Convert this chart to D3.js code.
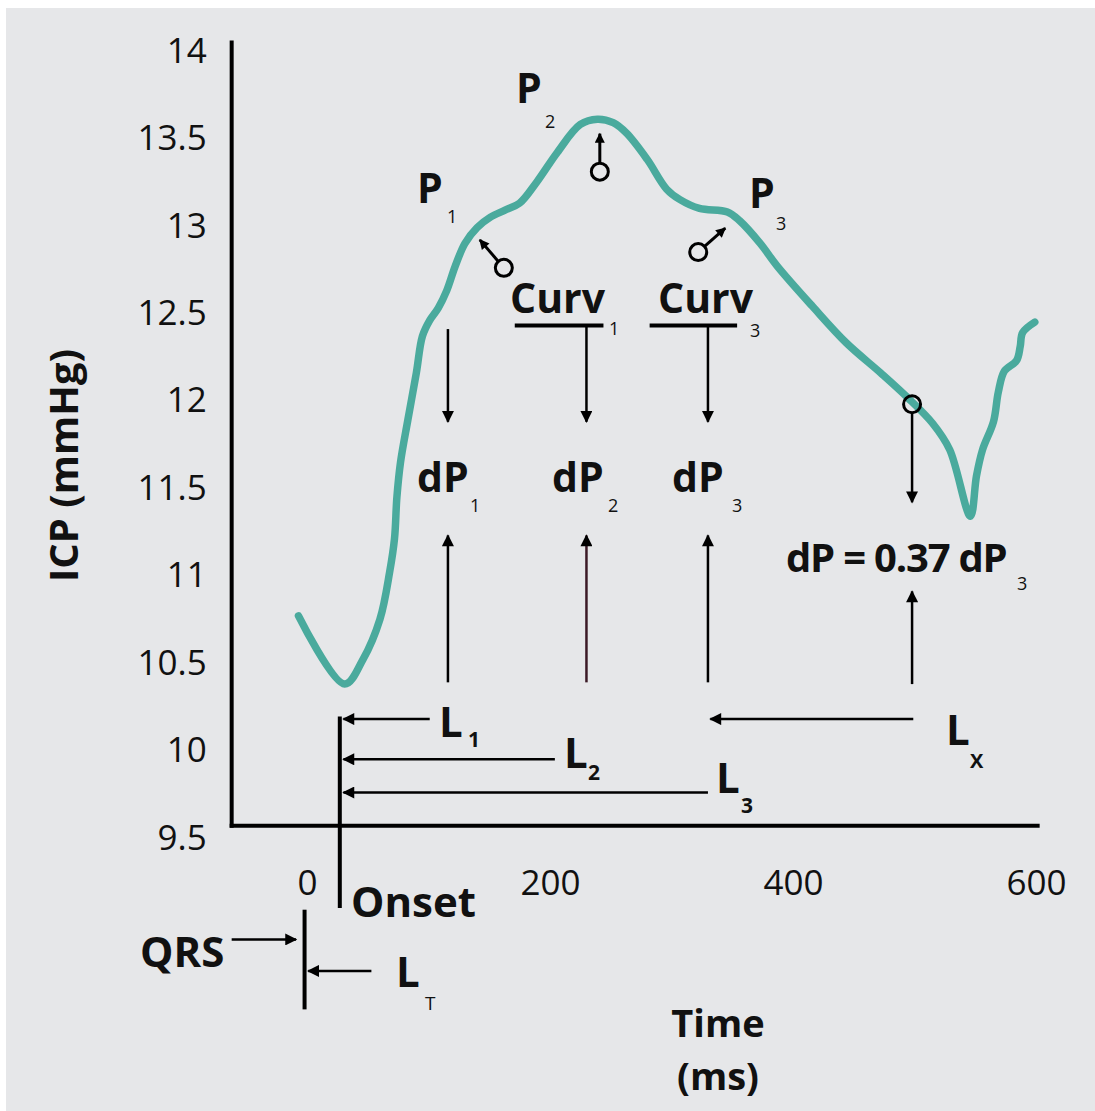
<!DOCTYPE html>
<html>
<head>
<meta charset="utf-8">
<script src="https://cdn.jsdelivr.net/npm/d3@7"></script>
<style>
  body { margin: 0; background: #fff; }
  text { font-family: "Open Sans", "Noto Sans", sans-serif; fill: #111; }
</style>
</head>
<body>
<div id="chart"></div>
<script>
// ICP pulse waveform
var timeMs = [-7, 31, 46, 60, 68, 72, 74, 77, 83, 90, 95, 101, 108, 115, 122, 130, 140, 151, 163, 175, 189,
              206, 225, 239, 252, 263, 280, 296, 307, 323, 346, 356, 373, 387, 416, 444, 472, 494, 515,
              529, 546, 551, 556, 565, 569, 574, 584, 587, 589, 599];
var icp = [10.77, 10.38, 10.52, 10.75, 11.02, 11.21, 11.45, 11.65, 11.89, 12.16, 12.37, 12.46, 12.53, 12.63,
           12.77, 12.90, 12.99, 13.05, 13.09, 13.13, 13.25, 13.42, 13.58, 13.61, 13.59, 13.53, 13.38, 13.21,
           13.15, 13.10, 13.08, 13.03, 12.90, 12.77, 12.54, 12.33, 12.16, 12.02, 11.87, 11.72, 11.34, 11.57,
           11.72, 11.88, 12.05, 12.17, 12.23, 12.31, 12.39, 12.45];

var yTicks = [14, 13.5, 13, 12.5, 12, 11.5, 11, 10.5, 10, 9.5];
var xTicks = [0, 200, 400, 600];

// feature times (ms) used by the annotations
var onsetMs = 27;
var qrsMs = -2;
var dpTimes = [116, 230, 330];
var lxMs = 498;

var width = 1095, height = 1111;

var svg = d3.select("#chart").append("svg")
    .attr("width", width)
    .attr("height", height);

svg.append("rect")
    .attr("x", 6).attr("y", 8)
    .attr("width", width - 6).attr("height", height - 8)
    .attr("fill", "#e6e7e9");

var x = d3.scaleLinear().domain([0, 600]).range([307, 1036]);
var y = d3.scaleLinear().domain([9.5, 14]).range([838, 51]);

var defs = svg.append("defs");
defs.append("marker")
    .attr("id", "head")
    .attr("viewBox", "0 0 10 10")
    .attr("refX", 9).attr("refY", 5)
    .attr("markerWidth", 15).attr("markerHeight", 12)
    .attr("markerUnits", "userSpaceOnUse")
    .attr("orient", "auto")
    .append("path").attr("d", "M0,0L10,5L0,10z").attr("fill", "#000");
defs.append("marker")
    .attr("id", "headSmall")
    .attr("viewBox", "0 0 10 10")
    .attr("refX", 9).attr("refY", 5)
    .attr("markerWidth", 11).attr("markerHeight", 10)
    .attr("markerUnits", "userSpaceOnUse")
    .attr("orient", "auto")
    .append("path").attr("d", "M0,0L10,5L0,10z").attr("fill", "#000");

// axes
var axisX0 = -62, axisY0 = 9.57;

svg.append("g")
    .attr("transform", "translate(" + x(axisX0) + ",0)")
    .call(d3.axisLeft(y).tickValues(yTicks).tickSize(0).tickPadding(25).tickFormat(d3.format("~g")))
    .call(g => g.select(".domain").remove())
    .selectAll("text")
    .attr("font-size", "35px")
    .attr("font-family", "'Open Sans', sans-serif")
    .attr("fill", "#111");

svg.append("g")
    .attr("transform", "translate(0," + y(axisY0) + ")")
    .call(d3.axisBottom(x).tickValues(xTicks).tickSize(0).tickPadding(44))
    .call(g => g.select(".domain").remove())
    .selectAll("text")
    .attr("font-size", "35px")
    .attr("font-family", "'Open Sans', sans-serif")
    .attr("fill", "#111");

svg.append("line")
    .attr("x1", x(axisX0)).attr("x2", x(axisX0))
    .attr("y1", y(14.06)).attr("y2", y(axisY0) + 2)
    .attr("stroke", "#000").attr("stroke-width", 4);
svg.append("line")
    .attr("x1", x(axisX0) - 2).attr("x2", x(603))
    .attr("y1", y(axisY0)).attr("y2", y(axisY0))
    .attr("stroke", "#000").attr("stroke-width", 4);

// axis titles
svg.append("text")
    .attr("transform", "translate(78," + y(11.63) + ") rotate(-90)")
    .attr("text-anchor", "middle")
    .attr("font-size", "40px")
    .attr("font-weight", 700)
    .text("ICP (mmHg)");
svg.append("text")
    .attr("x", 718).attr("y", 1037)
    .attr("text-anchor", "middle")
    .attr("font-size", "38px").attr("font-weight", 700)
    .text("Time");
svg.append("text")
    .attr("x", 718).attr("y", 1090)
    .attr("text-anchor", "middle")
    .attr("font-size", "38px").attr("font-weight", 700)
    .text("(ms)");

// waveform
var wave = timeMs.map((t, i) => ({t: t, v: icp[i]}));
var line = d3.line()
    .x(d => x(d.t))
    .y(d => y(d.v))
    .curve(d3.curveCatmullRom.alpha(0.5));

svg.append("path")
    .datum(wave)
    .attr("d", line)
    .attr("fill", "none")
    .attr("stroke", "#4aaa9d")
    .attr("stroke-width", 7.5)
    .attr("stroke-linecap", "round")
    .attr("stroke-linejoin", "round");

// helpers for annotations (data units)
function arrow(t1, v1, t2, v2, color, w) {
    svg.append("line")
        .attr("x1", x(t1)).attr("y1", y(v1))
        .attr("x2", x(t2)).attr("y2", y(v2))
        .attr("stroke", color || "#000")
        .attr("stroke-width", w || 2.5)
        .attr("marker-end", "url(#head)");
}
function plainLine(t1, v1, t2, v2, w) {
    svg.append("line")
        .attr("x1", x(t1)).attr("y1", y(v1))
        .attr("x2", x(t2)).attr("y2", y(v2))
        .attr("stroke", "#000")
        .attr("stroke-width", w || 4);
}
function circleArrow(t, v, dx, dy) {
    var cx = x(t), cy = y(v), r = 8.5;
    svg.append("circle")
        .attr("cx", cx).attr("cy", cy).attr("r", r)
        .attr("fill", "none").attr("stroke", "#000").attr("stroke-width", 3);
    if (!dx && !dy) return;
    var len = Math.sqrt(dx * dx + dy * dy);
    svg.append("line")
        .attr("x1", cx + dx / len * r).attr("y1", cy + dy / len * r)
        .attr("x2", cx + dx).attr("y2", cy + dy)
        .attr("stroke", "#000").attr("stroke-width", 3)
        .attr("marker-end", "url(#headSmall)");
}
function label(px, py, main, sub, subX, subY, size, subSize, subBold) {
    var g = svg.append("g");
    g.append("text")
        .attr("x", px).attr("y", py)
        .attr("font-size", (size || 41) + "px")
        .attr("font-weight", 700)
        .text(main);
    if (sub) {
        g.append("text")
            .attr("x", subX).attr("y", subY)
            .attr("font-size", (subSize || 18) + "px")
            .attr("font-weight", subBold ? 700 : 400)
            .attr("fill", subBold ? "#111" : "#333")
            .text(sub);
    }
}

// peak labels
label(417, 203, "P", "1", 447, 223);
label(516, 103, "P", "2", 545, 128);
label(749, 208, "P", "3", 776, 230);

// curvature markers
circleArrow(162, 12.76, -24, -28);
circleArrow(241, 13.31, 0, -38);
circleArrow(322, 12.85, 27, -24);
circleArrow(lxMs, 11.98, 0, 0);

label(510, 313, "Curv", "1", 609, 335);
label(658, 313, "Curv", "3", 750, 337);
plainLine(171, 12.43, 244, 12.43, 4);
plainLine(282, 12.43, 354, 12.43, 4);

// down arrows to dP
arrow(dpTimes[0], 12.41, dpTimes[0], 11.88);
arrow(dpTimes[1], 12.43, dpTimes[1], 11.88);
arrow(dpTimes[2], 12.43, dpTimes[2], 11.88);
arrow(lxMs, 11.93, lxMs, 11.42);

label(417, 492, "dP", "1", 470, 512);
label(552, 492, "dP", "2", 608, 512);
label(672, 492, "dP", "3", 732, 512);

svg.append("text")
    .attr("x", 786).attr("y", 572)
    .attr("font-size", "40px").attr("font-weight", 700)
    .attr("letter-spacing", "-1.2px")
    .text("dP = 0.37 dP");
svg.append("text").attr("x", 1017).attr("y", 590)
    .attr("font-size", "18px").attr("fill", "#333").text("3");

// up arrows from the L level
arrow(dpTimes[0], 10.39, dpTimes[0], 11.23);
arrow(dpTimes[1], 10.39, dpTimes[1], 11.23, "#3b1a26");
arrow(dpTimes[2], 10.39, dpTimes[2], 11.23);
arrow(lxMs, 10.38, lxMs, 10.91);

// onset line and latency arrows
plainLine(onsetMs, 10.195, onsetMs, 9.10, 4);
arrow(101, 10.18, onsetMs + 3, 10.18);
arrow(204, 9.95, onsetMs + 3, 9.95);
arrow(330, 9.76, onsetMs + 3, 9.76);
arrow(499, 10.18, 332, 10.18);

label(439, 737, "L", "1", 468, 747, 42, 21, true);
label(564, 768, "L", "2", 588, 780, 42, 21, true);
label(716, 793, "L", "3", 741, 813, 42, 21, true);
label(946, 745, "L", "X", 970, 768, 42, 20, true);

label(351, 917, "Onset", null, 0, 0, 42);

// QRS marker
plainLine(qrsMs, 9.09, qrsMs, 8.52, 4);
arrow(-62, 8.92, -9, 8.92);
arrow(53, 8.74, 1, 8.74);
label(140, 967, "QRS", null, 0, 0, 42);
label(396, 987, "L", "T", 425, 1010, 42, 19, false);
</script>
</body>
</html>
